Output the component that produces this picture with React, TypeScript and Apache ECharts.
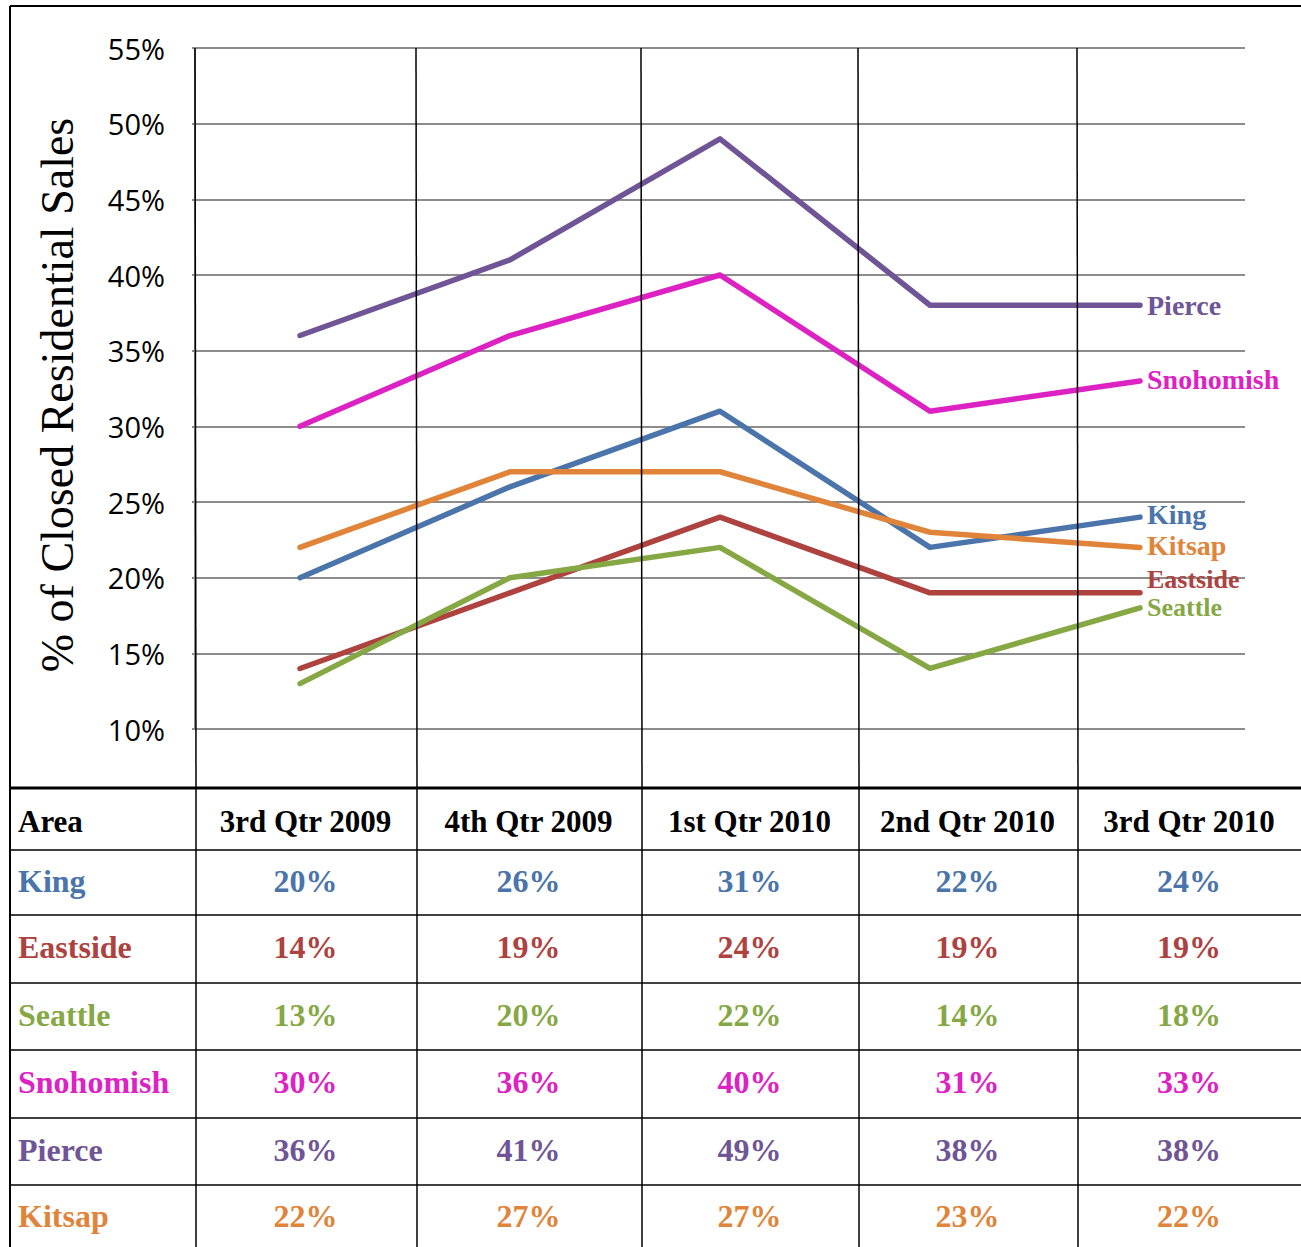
import React, { useEffect, useRef } from "react";
import * as echarts from "echarts";

const quarters = ["3rd Qtr 2009", "4th Qtr 2009", "1st Qtr 2010", "2nd Qtr 2010", "3rd Qtr 2010"];
const areas = ["King", "Eastside", "Seattle", "Snohomish", "Pierce", "Kitsap"];
const king = [20, 26, 31, 22, 24];
const eastside = [14, 19, 24, 19, 19];
const seattle = [13, 20, 22, 14, 18];
const snohomish = [30, 36, 40, 31, 33];
const pierce = [36, 41, 49, 38, 38];
const kitsap = [22, 27, 27, 23, 22];
const yTicks = [10, 15, 20, 25, 30, 35, 40, 45, 50, 55];

const values = [king, eastside, seattle, snohomish, pierce, kitsap];
const colors = ["#4a74aa", "#ae423f", "#86a844", "#dd22c4", "#6f5595", "#e0843a"];
const labelOffsets = [[0, -3], [0, -13], [0, 0], [0, -1], [0, 0], [0, -2]];
const labelSizes = [28, 26, 26, 28, 28, 28];

const SERIF = '"Liberation Serif", "Times New Roman", serif';
const SANS = '"Open Sans", "Liberation Sans", sans-serif';

export default function App() {
  const ref = useRef<HTMLDivElement>(null);
  useEffect(() => {
    document.body.style.margin = "0";
    const chart = echarts.init(ref.current!, null, { renderer: "svg" });

    const colX = [10, 195, 416, 641, 858, 1077, 1301];
    const rowY = [788, 850, 915, 983, 1050, 1118, 1185, 1247];
    const graphics: any[] = [];
    const line = (x1: number, y1: number, x2: number, y2: number, w: number, c = "#000") =>
      graphics.push({ type: "line", shape: { x1, y1, x2, y2 }, style: { stroke: c, lineWidth: w }, z: 10 });

    // frame
    line(10, 6, 1301, 6, 2);
    line(10, 6, 10, 1247, 2);
    // vertical lines through chart
    [195, 416, 641, 858, 1077].forEach((x) => line(x, 48, x + 1, 788, 1.5));
    // table horizontal lines
    line(10, 788, 1301, 788, 3);
    rowY.slice(1, 7).forEach((y) => line(10, y, 1301, y, 1.5));
    // table verticals
    [195, 416, 641, 858, 1077].forEach((x) => line(x + 1, 788, x + 1, 1247, 1.5));

    // header
    graphics.push({
      type: "text", x: 18, y: (rowY[0] + rowY[1]) / 2 + 2,
      style: { text: "Area", font: `bold 31px ${SERIF}`, fill: "#000", verticalAlign: "middle", align: "left" }, z: 10,
    });
    quarters.forEach((q, i) => {
      graphics.push({
        type: "text", x: (colX[i + 1] + colX[i + 2]) / 2, y: (rowY[0] + rowY[1]) / 2 + 2,
        style: { text: q, font: `bold 31px ${SERIF}`, fill: "#000", verticalAlign: "middle", align: "center" }, z: 10,
      });
    });
    areas.forEach((a, r) => {
      const cy = (rowY[r + 1] + rowY[r + 2]) / 2 - (r === areas.length - 1 ? 0 : 2);
      graphics.push({
        type: "text", x: 18, y: cy,
        style: { text: a, font: `bold 32px ${SERIF}`, fill: colors[r], verticalAlign: "middle", align: "left" }, z: 10,
      });
      values[r].forEach((v, i) => {
        graphics.push({
          type: "text", x: (colX[i + 1] + colX[i + 2]) / 2, y: cy,
          style: { text: v + "%", font: `bold 32px ${SERIF}`, fill: colors[r], verticalAlign: "middle", align: "center" }, z: 10,
        });
      });
    });
    // y axis title
    graphics.push({
      type: "text", x: 57, y: 395, rotation: Math.PI / 2,
      style: { text: "% of Closed Residential Sales", font: `46px ${SERIF}`, fill: "#000", verticalAlign: "middle", align: "center" }, z: 10,
    });

    chart.setOption({
      animation: false,
      grid: { left: 195, right: 56, top: 48, bottom: 518 },
      xAxis: {
        type: "category", data: quarters, boundaryGap: true,
        axisLine: { show: false }, axisTick: { show: false }, axisLabel: { show: false }, splitLine: { show: false },
      },
      yAxis: {
        type: "value", min: yTicks[0], max: yTicks[yTicks.length - 1], interval: 5,
        axisLine: { show: true, lineStyle: { color: "#8c8c8c", width: 2 } },
        axisTick: { show: true, length: 3, inside: false, lineStyle: { color: "#8c8c8c", width: 2 } },
        axisLabel: { formatter: "{value}%", fontFamily: SANS, fontSize: 29, color: "#000", margin: 30 },
        splitLine: { show: true, lineStyle: { color: "#8c8c8c", width: 2 } },
      },
      series: areas.map((a, i) => ({
        name: a, type: "line", data: values[i], showSymbol: false, symbol: "none",
        lineStyle: { color: colors[i], width: 5.5, cap: "round", join: "round" },
        itemStyle: { color: colors[i] },
        endLabel: {
          show: true, formatter: a, color: colors[i], fontFamily: SERIF, fontWeight: "bold", fontSize: labelSizes[i],
          lineHeight: 20, distance: 7, offset: labelOffsets[i],
        },
        z: 5,
      })),
      graphic: graphics,
    });
    return () => chart.dispose();
  }, []);
  return <div ref={ref} style={{ width: 1301, height: 1247 }} />;
}
